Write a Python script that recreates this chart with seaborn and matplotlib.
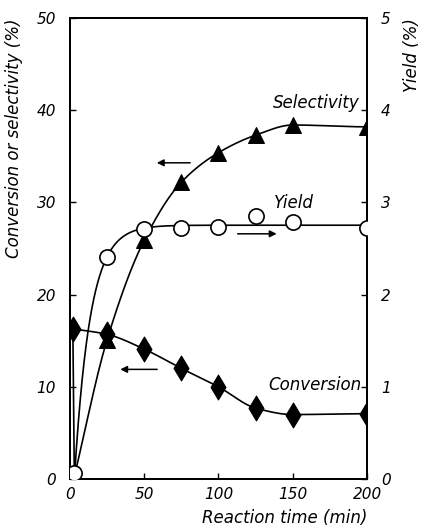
import numpy as np
import matplotlib
matplotlib.use("Agg")
import matplotlib.pyplot as plt
import seaborn as sns

# Reaction time (min) and measured series
time_sel = [3, 25, 50, 75, 100, 125, 150, 200]
selectivity = [0.3, 15.1, 25.9, 32.2, 35.4, 37.3, 38.4, 38.2]

time_conv = [2, 25, 50, 75, 100, 125, 150, 200]
conversion = [16.3, 15.7, 14.1, 12.0, 10.0, 7.7, 7.0, 7.1]

time_yield = [3, 25, 50, 75, 100, 125, 150, 200]
yield_pct = [0.07, 2.41, 2.71, 2.72, 2.73, 2.85, 2.79, 2.72]

left_ticks = [0, 10, 20, 30, 40, 50]
right_ticks = [0, 1, 2, 3, 4, 5]
x_ticks = [0, 50, 100, 150, 200]


def pchip(x, y, xs):
    """Monotone cubic Hermite interpolation (Fritsch-Carlson)."""
    x = np.asarray(x, float)
    y = np.asarray(y, float)
    h = np.diff(x)
    d = np.diff(y) / h
    n = len(x)
    m = np.zeros(n)
    for i in range(1, n - 1):
        if d[i - 1] * d[i] <= 0:
            m[i] = 0.0
        else:
            w1 = 2 * h[i] + h[i - 1]
            w2 = h[i] + 2 * h[i - 1]
            m[i] = (w1 + w2) / (w1 / d[i - 1] + w2 / d[i])
    m[0] = d[0]
    m[-1] = d[-1] if d[-1] * d[-2] > 0 else 0.0
    out = np.empty_like(xs)
    for j, t in enumerate(xs):
        i = min(np.searchsorted(x, t, side="right") - 1, n - 2)
        i = max(i, 0)
        s = (t - x[i]) / h[i]
        h00 = 2 * s**3 - 3 * s**2 + 1
        h10 = s**3 - 2 * s**2 + s
        h01 = -2 * s**3 + 3 * s**2
        h11 = s**3 - s**2
        out[j] = h00 * y[i] + h10 * h[i] * m[i] + h01 * y[i + 1] + h11 * h[i] * m[i + 1]
    return out


def saturation_curve(t, y, ts):
    """Saturating rise y = A * (1 - exp(-k (t - t0))): A from the plateau,
    k from the first point after the start."""
    t = np.asarray(t, float)
    y = np.asarray(y, float)
    t0 = t[0]
    A = np.mean(y[2:])
    k = -np.log(1 - y[1] / A) / (t[1] - t0)
    return A * (1 - np.exp(-k * (ts - t0)))


sns.set_theme(style="ticks")
plt.rcParams["font.family"] = ["DejaVu Sans"]
plt.rcParams["font.style"] = "italic"
for key in ("text.color", "axes.labelcolor", "xtick.color", "ytick.color",
            "axes.edgecolor"):
    plt.rcParams[key] = "black"

fig = plt.figure(figsize=(4.21, 5.30), dpi=100)
ax = fig.add_axes([0.166, 0.096, 0.706, 0.870])
ax2 = ax.twinx()

lw = 1.2
ink = "black"

# Smooth curves
ts = np.linspace(time_sel[0], time_sel[-1], 300)
sns.lineplot(x=ts, y=pchip(time_sel, selectivity, ts), ax=ax, color=ink, lw=lw)

tc = np.linspace(time_conv[0], time_conv[-1], 300)
sns.lineplot(x=tc, y=pchip(time_conv, conversion, tc), ax=ax, color=ink, lw=lw)
# rise from the common starting point
ax.plot([time_sel[0], time_conv[0]], [0, conversion[0]], color=ink, lw=lw)

ty = np.linspace(time_yield[0], 200, 300)
sns.lineplot(x=ty, y=saturation_curve(time_yield, yield_pct, ty), ax=ax2,
             color=ink, lw=lw)

# Markers
sns.scatterplot(x=time_sel, y=selectivity, ax=ax, marker="^", s=130,
                color=ink, edgecolor=ink, linewidth=0.8, zorder=5)
sns.scatterplot(x=time_conv, y=conversion, ax=ax, marker="d", s=160,
                color=ink, edgecolor=ink, linewidth=0.8, zorder=5)
sns.scatterplot(x=time_yield, y=yield_pct, ax=ax2, marker="o", s=120,
                facecolor="white", edgecolor=ink, linewidth=1.2, zorder=6)

ax.set_xlim(0, 200)
ax.set_ylim(0, 50)
ax2.set_ylim(0, 5)

ax.set_xticks(x_ticks)
ax.set_xticklabels([str(v) for v in x_ticks])
ax.set_yticks(left_ticks)
ax.set_yticklabels([str(v) for v in left_ticks])
ax2.set_yticks(right_ticks)
ax2.set_yticklabels([str(v) for v in right_ticks])

fs = 11
lfs = 12
ax.tick_params(axis="both", direction="in", length=4, width=1, labelsize=fs,
               top=False, pad=6)
ax.tick_params(axis="y", pad=10)
ax2.tick_params(axis="y", direction="in", length=4, width=1, labelsize=fs, pad=10)
for a in (ax, ax2):
    for sp in a.spines.values():
        sp.set_visible(True)
        sp.set_linewidth(1.4)
        sp.set_color(ink)
    a.grid(False)

ax.set_xlabel("Reaction time (min)", fontsize=lfs, loc="right", labelpad=5)
ax.set_ylabel("Conversion or selectivity (%)", fontsize=lfs, loc="top", labelpad=10)
ax2.set_ylabel("Yield (%)", fontsize=lfs, loc="top", labelpad=9)

# Series labels
ax.text(195, 40.8, "Selectivity", fontsize=lfs, ha="right", va="center")
ax.text(151, 29.9, "Yield", fontsize=lfs, ha="center", va="center")
ax.text(196, 10.2, "Conversion", fontsize=lfs, ha="right", va="center")

# Axis-pointing arrows
arrow = dict(arrowstyle="-|>", color=ink, lw=1.1, mutation_scale=10)
ax.annotate("", xy=(56.6, 34.3), xytext=(82.8, 34.3), arrowprops=arrow)
ax.annotate("", xy=(141, 26.6), xytext=(111, 26.6), arrowprops=arrow)
ax.annotate("", xy=(32, 11.9), xytext=(60.6, 11.9), arrowprops=arrow)

fig.savefig("out.png", dpi=100)
